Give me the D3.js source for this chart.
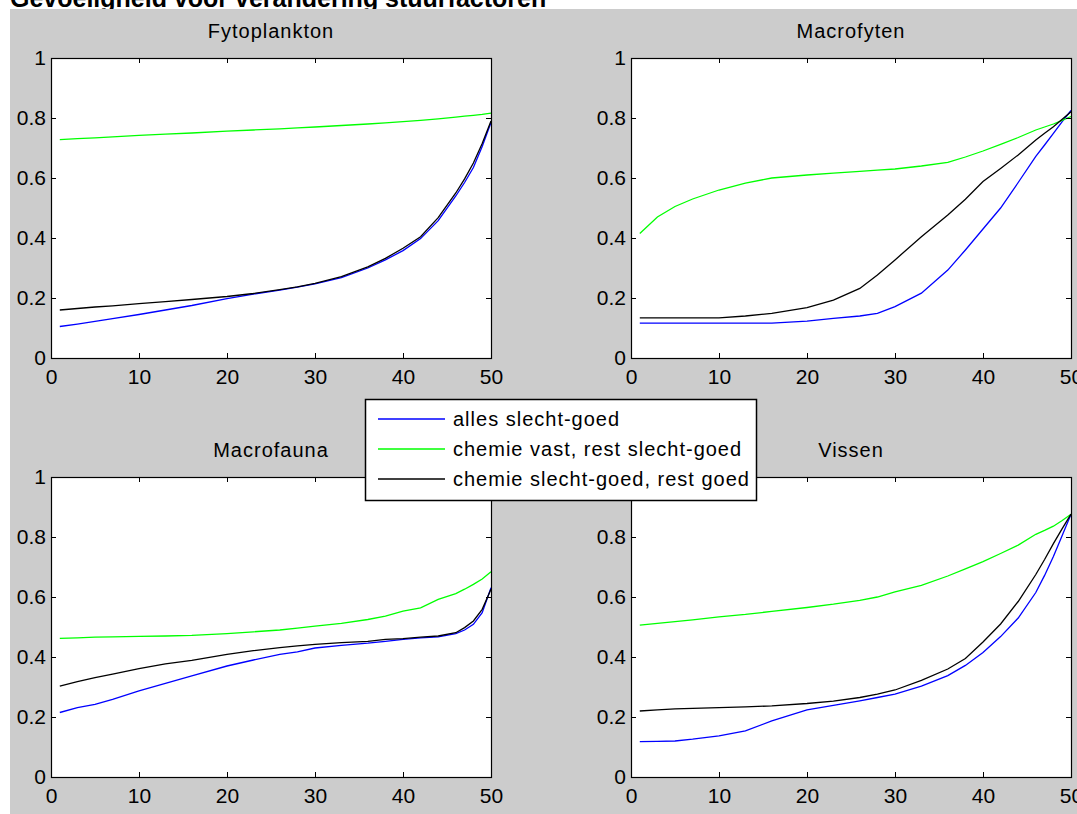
<!DOCTYPE html>
<html>
<head>
<meta charset="utf-8">
<script src="https://cdn.jsdelivr.net/npm/d3@7"></script>
<style>
  body { margin: 0; background: #fff; }
  text { font-family: "Liberation Sans", Arial, sans-serif; fill: #000; }
</style>
</head>
<body>
<div id="fig"></div>
<script>
const xs = [1, 3, 5, 7, 10, 13, 16, 20, 23, 26, 28, 30, 33, 36, 38, 40, 42, 44, 46, 47, 48, 49, 50];

// Fytoplankton
const fytoBlue  = [0.105, 0.113, 0.122, 0.131, 0.145, 0.160, 0.175, 0.198, 0.213, 0.226, 0.236, 0.247, 0.268, 0.300, 0.327, 0.358, 0.398, 0.458, 0.540, 0.585, 0.635, 0.705, 0.785];
const fytoGreen = [0.728, 0.731, 0.734, 0.737, 0.742, 0.746, 0.750, 0.756, 0.760, 0.764, 0.767, 0.770, 0.775, 0.780, 0.784, 0.788, 0.792, 0.797, 0.803, 0.806, 0.809, 0.812, 0.816];
const fytoBlack = [0.160, 0.165, 0.170, 0.174, 0.181, 0.188, 0.195, 0.205, 0.215, 0.228, 0.237, 0.249, 0.271, 0.304, 0.332, 0.366, 0.404, 0.468, 0.550, 0.597, 0.650, 0.715, 0.790];

// Macrofyten
const mfytBlue  = [0.116, 0.116, 0.116, 0.116, 0.116, 0.116, 0.116, 0.123, 0.132, 0.140, 0.149, 0.171, 0.216, 0.293, 0.360, 0.430, 0.500, 0.585, 0.672, 0.710, 0.749, 0.788, 0.825];
const mfytGreen = [0.415, 0.470, 0.505, 0.530, 0.560, 0.583, 0.600, 0.610, 0.616, 0.622, 0.626, 0.630, 0.640, 0.652, 0.670, 0.690, 0.712, 0.735, 0.760, 0.770, 0.780, 0.792, 0.805];
const mfytBlack = [0.134, 0.134, 0.134, 0.134, 0.134, 0.140, 0.149, 0.168, 0.193, 0.232, 0.277, 0.327, 0.404, 0.477, 0.529, 0.588, 0.632, 0.677, 0.727, 0.749, 0.771, 0.796, 0.821];

// Macrofauna
const mfauBlue  = [0.215, 0.231, 0.242, 0.259, 0.287, 0.312, 0.337, 0.370, 0.390, 0.409, 0.417, 0.430, 0.439, 0.446, 0.452, 0.459, 0.464, 0.467, 0.478, 0.490, 0.509, 0.548, 0.631];
const mfauGreen = [0.462, 0.464, 0.466, 0.467, 0.469, 0.470, 0.472, 0.478, 0.484, 0.490, 0.496, 0.503, 0.512, 0.525, 0.536, 0.553, 0.564, 0.592, 0.611, 0.626, 0.642, 0.660, 0.684];
const mfauBlack = [0.303, 0.318, 0.331, 0.343, 0.361, 0.377, 0.389, 0.409, 0.421, 0.431, 0.437, 0.442, 0.448, 0.452, 0.459, 0.461, 0.466, 0.470, 0.481, 0.498, 0.520, 0.559, 0.626];

// Vissen
const vissBlue  = [0.118, 0.119, 0.120, 0.126, 0.137, 0.154, 0.187, 0.224, 0.239, 0.254, 0.265, 0.276, 0.303, 0.338, 0.372, 0.415, 0.468, 0.530, 0.615, 0.672, 0.735, 0.805, 0.876];
const vissGreen = [0.506, 0.512, 0.518, 0.524, 0.534, 0.542, 0.552, 0.565, 0.576, 0.589, 0.600, 0.617, 0.639, 0.670, 0.694, 0.718, 0.745, 0.773, 0.809, 0.822, 0.836, 0.855, 0.876];
const vissBlack = [0.220, 0.224, 0.227, 0.229, 0.231, 0.234, 0.237, 0.245, 0.253, 0.265, 0.276, 0.290, 0.322, 0.360, 0.395, 0.450, 0.510, 0.585, 0.675, 0.725, 0.778, 0.828, 0.876];

const panelTitles = ["Fytoplankton", "Macrofyten", "Macrofauna", "Vissen"];
const seriesNames = ["alles slecht-goed", "chemie vast, rest slecht-goed", "chemie slecht-goed, rest goed"];
const seriesColors = ["#0000ff", "#00ff00", "#000000"];
const xTicks = [0, 10, 20, 30, 40, 50];
const yTicks = [0, 0.2, 0.4, 0.6, 0.8, 1];

const panelData = [
  [fytoBlue, fytoGreen, fytoBlack],
  [mfytBlue, mfytGreen, mfytBlack],
  [mfauBlue, mfauGreen, mfauBlack],
  [vissBlue, vissGreen, vissBlack]
];

// figure size and panel placement
const W = 1077, H = 814;
const pw = 440, ph = 300;
const lefts = [51, 631, 51, 631];
const tops = [58, 58, 477, 477];

const svg = d3.select("#fig")
  .append("svg")
    .attr("width", W)
    .attr("height", H);

// page heading, cut off at the top
svg.append("text")
  .attr("x", 10)
  .attr("y", 7)
  .style("font-weight", "bold")
  .style("font-size", "25px")
  .text("Gevoeligheid voor verandering stuurfactoren");

// grey figure background
svg.append("rect")
  .attr("x", 10)
  .attr("y", 9)
  .attr("width", W - 10)
  .attr("height", H - 9)
  .attr("fill", "#cccccc");

const x = d3.scaleLinear().domain([0, 50]).range([0, pw]);
const y = d3.scaleLinear().domain([0, 1]).range([ph, 0]);

const line = d3.line()
  .x(d => x(d[0]))
  .y(d => y(d[1]));

panelData.forEach(function(series, i) {
  const g = svg.append("g")
    .attr("transform", `translate(${lefts[i]}, ${tops[i]})`);

  g.append("rect")
    .attr("width", pw)
    .attr("height", ph)
    .attr("fill", "#fff");

  // lines
  series.forEach(function(vals, j) {
    g.append("path")
      .datum(xs.map((v, k) => [v, vals[k]]))
      .attr("fill", "none")
      .attr("stroke", seriesColors[j])
      .attr("stroke-width", 1.3)
      .attr("d", line);
  });

  // frame
  g.append("rect")
    .attr("x", 0.5)
    .attr("y", 0.5)
    .attr("width", pw)
    .attr("height", ph)
    .attr("fill", "none")
    .attr("stroke", "#000")
    .attr("stroke-width", 1.2);

  // axes with inward ticks
  // the "1" of the last panel sits under the legend, so leave it out there
  const yLabelFmt = d => (i === 3 && d === 1) ? "" : String(d);
  g.append("g")
    .attr("transform", `translate(0, ${ph})`)
    .call(d3.axisBottom(x).tickValues(xTicks).tickSizeInner(-5).tickSizeOuter(0).tickPadding(11).tickFormat(d => String(d)));
  g.append("g")
    .call(d3.axisLeft(y).tickValues(yTicks).tickSizeInner(-5).tickSizeOuter(0).tickPadding(5).tickFormat(yLabelFmt));
  g.append("g")
    .call(d3.axisTop(x).tickValues(xTicks).tickSizeInner(-5).tickSizeOuter(0).tickFormat(""));
  g.append("g")
    .attr("transform", `translate(${pw}, 0)`)
    .call(d3.axisRight(y).tickValues(yTicks).tickSizeInner(-5).tickSizeOuter(0).tickFormat(""));

  g.selectAll(".domain").remove();
  g.selectAll(".tick line").attr("stroke", "#000");
  g.selectAll(".tick text")
    .style("font-size", "21px")
    .style("font-family", "'Liberation Sans', Arial, sans-serif")
    .attr("fill", "#000");

  g.append("text")
    .attr("x", pw / 2)
    .attr("y", -20)
    .attr("text-anchor", "middle")
    .style("font-size", "20px")
    .style("letter-spacing", "1px")
    .text(panelTitles[i]);
});

// legend box between the panels
const lg = svg.append("g")
  .attr("transform", "translate(365, 399)");

lg.append("rect")
  .attr("x", 0.5)
  .attr("y", 0.5)
  .attr("width", 391)
  .attr("height", 101)
  .attr("fill", "#fff")
  .attr("stroke", "#000")
  .attr("stroke-width", 1.5);

seriesNames.forEach(function(name, j) {
  const yy = 20 + j * 30;
  lg.append("line")
    .attr("x1", 13)
    .attr("x2", 80)
    .attr("y1", yy)
    .attr("y2", yy)
    .attr("stroke", seriesColors[j])
    .attr("stroke-width", 1.3);
  lg.append("text")
    .attr("x", 88)
    .attr("y", yy)
    .attr("dy", "0.35em")
    .style("font-size", "20px")
    .style("letter-spacing", "1px")
    .text(name);
});
</script>
</body>
</html>
